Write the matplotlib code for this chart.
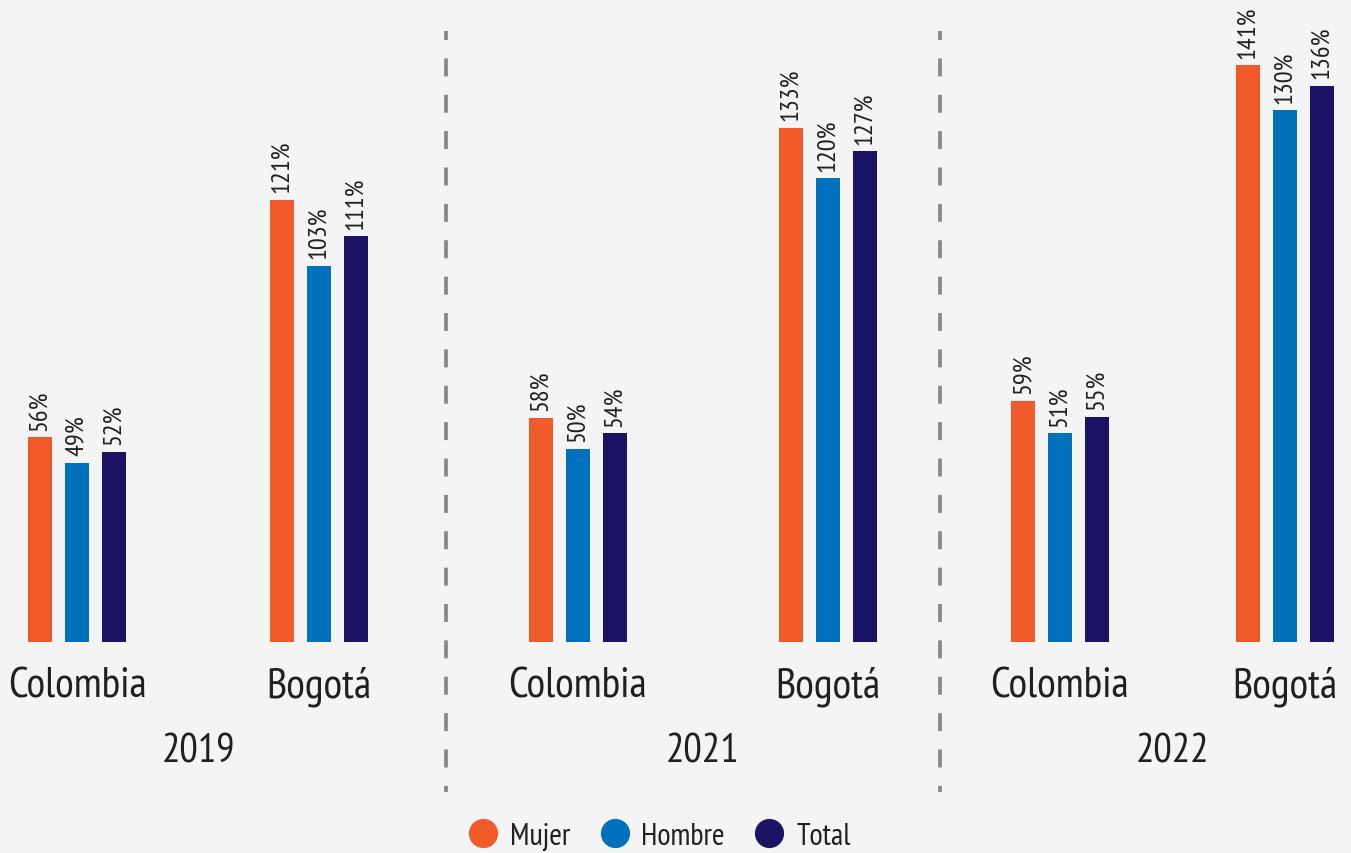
import matplotlib
matplotlib.use("Agg")
import matplotlib.pyplot as plt
from matplotlib.lines import Line2D
import matplotlib.transforms as mtransforms

plt.rcParams['font.family'] = ['PT Sans Narrow', 'DejaVu Sans']

# data
years = ['2019', '2021', '2022']
places = ['Colombia', 'Bogotá']
series = ['Mujer', 'Hombre', 'Total']
mujer = [[56, 121], [58, 133], [59, 141]]
hombre = [[49, 103], [50, 120], [51, 130]]
total = [[52, 111], [54, 127], [55, 136]]

colors = ['#f15a29', '#0071bc', '#1b1464']
bg = '#f4f4f4'
txt = '#231f20'

W, H = 1351, 854
fig = plt.figure(figsize=(W / 100, H / 100), dpi=100, facecolor=bg)

# panel layout in pixels (each year was drawn at its own scale)
panel_x = [(0, 446), (446, 940), (940, 1351)]
centers = [[77, 319], [132, 382], [120, 345]]
ytops = [176, 166.4, 157.2]
base_px = 643
bw, step = 24, 37

for k, yr in enumerate(years):
    x0, x1 = panel_x[k]
    ax = fig.add_axes([x0 / W, (H - base_px) / H, (x1 - x0) / W, base_px / H])
    ax.set_facecolor('none')
    ax.set_xlim(0, x1 - x0)
    ax.set_ylim(0, ytops[k])
    ax.axis('off')
    vals = [mujer[k], hombre[k], total[k]]
    for s in range(3):
        xs = [c + (s - 1) * step for c in centers[k]]
        bars = ax.bar(xs, vals[s], width=bw, color=colors[s], label=series[s])
        for b, v in zip(bars, vals[s]):
            ax.annotate(f'{v}%', (b.get_x() + b.get_width() / 2, v),
                        xytext=(0, 5.5), textcoords='offset points',
                        rotation=90, ha='center', va='bottom',
                        fontsize=19, color=txt)
    tr = mtransforms.blended_transform_factory(ax.transData, ax.transAxes)
    for c, p in zip(centers[k], places):
        ax.annotate(p, (c, 0), xycoords=tr, xytext=(0, -55 * 0.72),
                    textcoords='offset points', ha='center', va='baseline',
                    fontsize=31, color=txt, annotation_clip=False)
    mid = sum(centers[k]) / 2
    ax.annotate(yr, (mid, 0), xycoords=tr, xytext=(0, -120 * 0.72),
                textcoords='offset points', ha='center', va='baseline',
                fontsize=29.5, color=txt, annotation_clip=False)

# dashed separators
for xs in [446, 940]:
    fig.add_artist(Line2D([xs / W, xs / W], [(H - 32) / H, (H - 793) / H],
                          transform=fig.transFigure, color='#888888', lw=2.7,
                          linestyle=(2.4, (4.8, 4.9))))

handles = [Line2D([], [], marker='o', linestyle='none', markersize=20,
                  markerfacecolor=c, markeredgecolor=c) for c in colors]
fig.legend(handles, series, loc='center', bbox_to_anchor=(0.488, 17 / H),
           ncol=3, frameon=False, fontsize=22, handlelength=1.0,
           handletextpad=0.38, columnspacing=0.95, labelcolor=txt,
           borderaxespad=0, borderpad=0)

fig.savefig('out.png', dpi=100, facecolor=bg)
